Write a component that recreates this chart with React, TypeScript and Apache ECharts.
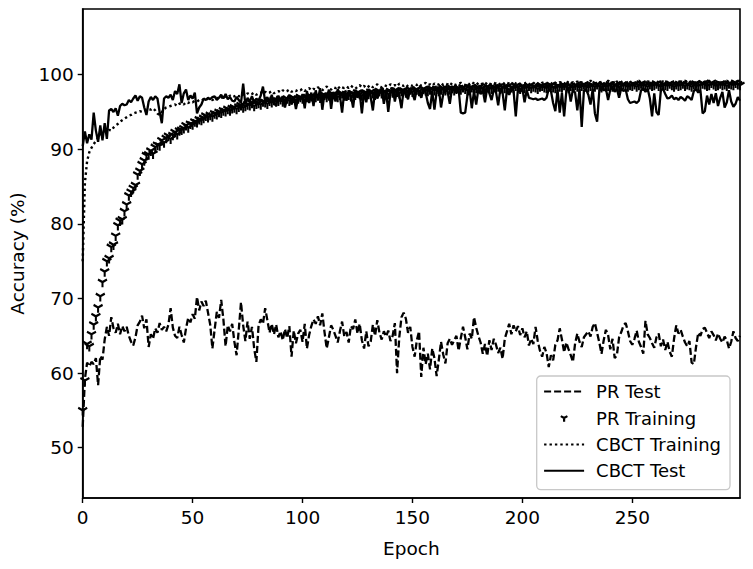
import React, { useEffect, useRef } from "react";
import * as echarts from "echarts";

const FONT = "DejaVu Sans";

const xTicks: number[] = [0, 50, 100, 150, 200, 250];
const yTicks: number[] = [50, 60, 70, 80, 90, 100];

// PR Test (dashed), epochs 0..299
const prTest: number[] = [
  52.8, 59.2, 61.4, 60.9, 61.5, 61.2, 62.0, 58.4, 62.3, 61.8,
  64.5, 66.2, 65.0, 67.5, 66.0, 65.4, 66.6, 65.2, 66.3, 65.6,
  66.2, 65.0, 64.2, 63.7, 64.8, 66.4, 66.9, 67.7, 66.0, 67.2,
  63.5, 65.2, 64.6, 66.0, 65.4, 66.7, 65.8, 66.2, 65.6, 66.5,
  68.7, 66.1, 65.0, 64.7, 66.2, 65.1, 64.1, 66.0, 67.4, 66.8,
  67.9, 67.3, 70.2, 68.4, 69.6, 69.0, 69.7, 68.1, 66.5, 63.3,
  65.8, 68.2, 67.4, 69.8, 67.2, 63.6, 66.4, 65.6, 66.6, 64.2,
  62.4, 65.8, 69.5, 66.4, 64.3, 66.9, 64.6, 66.2, 63.3, 61.5,
  66.4, 67.2, 66.6, 68.7, 67.1, 65.4, 66.6, 65.2, 66.5, 64.8,
  65.6, 64.4, 65.9, 64.7, 66.3, 62.2, 65.7, 64.0, 65.3, 65.8,
  64.2, 66.6, 63.3, 65.1, 66.3, 67.2, 66.6, 67.6, 66.4, 68.0,
  65.5, 63.3, 64.8, 66.4, 65.8, 65.0, 64.1, 65.6, 66.9, 64.9,
  65.5, 64.1, 66.3, 65.9, 67.2, 65.3, 66.6, 64.4, 63.3, 65.6,
  63.6, 64.2, 66.5, 65.0, 67.1, 65.4, 64.5, 65.6, 64.9, 65.7,
  64.3, 65.0, 66.7, 60.0, 64.8, 67.5, 68.1, 67.3, 65.4, 66.2,
  63.5, 62.2, 64.4, 65.6, 59.5, 63.4, 61.2, 62.6, 60.5, 63.3,
  62.0, 59.6, 61.8, 64.2, 62.5, 61.3, 64.0, 64.6, 63.8, 64.4,
  65.0, 63.0, 64.7, 66.2, 64.8, 63.2, 65.3, 64.6, 67.5, 66.1,
  65.0, 64.1, 62.6, 63.9, 62.3, 64.4, 63.1, 64.6, 63.8, 62.7,
  63.4, 61.9, 64.6, 65.6, 66.6, 65.2, 66.4, 65.6, 66.3, 65.1,
  66.0, 64.8, 65.6, 63.7, 64.6, 63.9, 66.2, 64.3, 63.0, 62.2,
  63.5, 62.7, 60.8, 62.4, 61.7, 63.8, 64.4, 66.0, 64.5, 62.8,
  64.1, 63.2, 62.4, 61.5, 64.0, 65.3, 64.2, 63.5, 64.8, 65.2,
  65.6, 64.9, 66.2, 66.7, 65.4, 64.1, 62.6, 64.4, 65.8, 65.1,
  63.2, 64.6, 62.0, 62.4, 64.8, 65.5, 66.4, 66.7, 65.6, 64.3,
  63.8, 64.6, 65.7, 64.2, 63.5, 62.6, 67.0, 65.2, 64.7, 64.0,
  63.4, 64.8, 65.3, 63.6, 64.5, 63.1, 64.2, 62.9, 62.2, 64.6,
  66.4, 65.3, 65.8, 64.9, 64.1, 63.6, 64.3, 61.4, 61.2, 63.5,
  65.4, 65.0, 65.9, 66.1, 65.4, 64.7, 65.6, 65.1, 64.4, 65.3,
  64.6, 64.1, 64.9, 64.4, 63.3, 64.2, 65.6, 64.7, 64.3, 65.0,
];

// PR Training (tri-down markers)
const prTraining: number[] = [
  55.0, 59.0, 63.9, 63.6, 65.2, 66.5, 67.6, 68.8, 70.3, 72.2,
  73.6, 75.0, 75.4, 76.9, 77.2, 78.4, 79.8, 80.4, 80.6, 81.7,
  82.6, 83.8, 84.3, 84.8, 85.2, 86.6, 87.1, 88.0, 88.5, 89.2,
  89.3, 89.8, 89.4, 90.3, 90.6, 90.5, 91.2, 90.9, 91.5, 91.8,
  91.4, 91.9, 92.3, 92.0, 92.5, 92.6, 92.8, 93.2, 92.9, 93.4,
  93.3, 93.7, 93.6, 94.0, 93.9, 94.2, 94.5, 94.3, 94.6, 94.4,
  94.8, 94.7, 95.0, 94.9, 95.2, 95.1, 95.4, 95.2, 95.5, 95.6,
  95.4, 95.7, 95.9, 95.6, 95.8, 96.0, 95.9, 96.2, 95.8, 96.1,
  96.2, 96.0, 96.4, 96.3, 96.1, 96.5, 96.3, 96.6, 96.4, 96.5,
  96.7, 96.4, 96.6, 96.8, 96.5, 96.7, 96.9, 96.6, 96.8, 97.0,
  96.8, 96.6, 97.0, 96.9, 97.1, 96.8, 97.0, 97.2, 96.9, 97.1,
  97.3, 97.0, 97.2, 97.1, 97.4, 97.2, 97.0, 97.3, 97.5, 97.2,
  97.4, 97.3, 97.1, 97.5, 97.3, 97.6, 97.4, 97.2, 97.5, 97.6,
  97.4, 97.7, 97.5, 97.3, 97.6, 97.8, 97.5, 97.7, 97.6, 97.4,
  97.8, 97.6, 97.9, 97.7, 97.5, 97.8, 97.9, 97.6, 97.8, 98.0,
  97.7, 97.9, 98.0, 97.8, 97.6, 98.1, 97.9, 97.8, 98.0, 98.1,
  97.9, 98.1, 97.8, 98.0, 98.2, 97.9, 98.1, 98.0, 98.2, 97.9,
  98.1, 98.2, 98.0, 98.3, 98.1, 97.9, 98.2, 98.3, 98.0, 98.2,
  98.3, 98.1, 98.2, 98.0, 98.4, 98.2, 98.1, 98.3, 98.2, 98.4,
  98.1, 98.3, 98.2, 98.4, 98.0, 98.3, 98.2, 98.5, 98.3, 98.1,
  98.4, 98.2, 98.3, 98.5, 98.2, 98.4, 98.3, 98.1, 98.4, 98.5,
  98.3, 98.2, 98.4, 98.6, 98.3, 98.2, 98.5, 98.4, 98.3, 98.6,
  98.4, 98.2, 98.5, 98.3, 98.6, 98.4, 98.3, 98.5, 98.7, 98.4,
  98.3, 98.5, 98.6, 98.4, 98.7, 98.5, 98.3, 98.6, 98.4, 98.5,
  98.7, 98.4, 98.6, 98.5, 98.3, 98.6, 98.7, 98.5, 98.4, 98.6,
  98.5, 98.7, 98.4, 98.6, 98.8, 98.5, 98.6, 98.4, 98.7, 98.5,
  98.6, 98.8, 98.5, 98.4, 98.7, 98.6, 98.5, 98.8, 98.6, 98.4,
  98.7, 98.5, 98.6, 98.8, 98.5, 98.7, 98.6, 98.4, 98.7, 98.8,
  98.5, 98.6, 98.8, 98.7, 98.5, 98.6, 98.9, 98.7, 98.5, 98.6,
  98.8, 98.6, 98.7, 98.5, 98.8, 98.7, 98.6, 98.9, 98.7, 98.6,
];

// CBCT Training (dotted)
const cbctTraining: number[] = [
  75.0, 85.5, 88.4, 89.6, 90.2, 90.7, 91.1, 91.5, 91.9, 92.2,
  92.4, 92.3, 92.6, 92.5, 92.9, 93.2, 93.4, 93.7, 93.9, 94.1,
  94.3, 94.5, 94.6, 94.8, 94.9, 95.0, 95.1, 95.0, 95.2, 95.3,
  95.4, 95.3, 95.5, 95.2, 94.8, 94.6, 95.0, 95.4, 95.6, 95.7,
  95.8, 95.9, 96.0, 95.8, 96.1, 96.2, 96.0, 96.3, 96.2, 96.4,
  96.3, 96.5, 96.4, 96.6, 96.5, 96.7, 96.6, 96.8, 96.7, 96.6,
  96.8, 96.9, 96.7, 97.0, 96.8, 97.1, 96.9, 97.2, 97.0, 97.1,
  97.3, 97.1, 97.2, 97.4, 97.2, 97.5, 97.3, 97.4, 97.6, 97.3,
  97.5, 97.6, 97.4, 97.7, 97.5, 97.6, 97.8, 97.5, 97.7, 97.8,
  97.6, 97.9, 97.7, 97.8, 98.0, 97.7, 97.9, 97.8, 98.0, 97.9,
  98.1, 97.8, 98.0, 98.2, 97.9, 98.1, 98.0, 98.3, 98.1, 97.9,
  98.2, 98.4, 98.1, 98.0, 98.3, 98.2, 98.5, 98.1, 98.3, 98.2,
  98.4, 98.2, 98.5, 98.3, 98.1, 98.4, 98.6, 98.3, 98.5, 98.2,
  98.4, 98.6, 98.3, 98.5, 98.7, 98.4, 98.3, 98.6, 98.5, 98.4,
  98.7, 98.5, 98.6, 98.4, 98.8, 98.6, 98.5, 98.7, 98.4, 98.6,
  98.5, 98.7, 98.6, 98.8, 98.5, 98.7, 98.9, 98.6, 98.7, 98.5,
  98.8, 98.6, 98.7, 98.9, 98.6, 98.8, 98.7, 98.5, 98.9, 98.7,
  98.6, 98.8, 98.9, 98.7, 98.6, 98.9, 98.7, 99.0, 98.8, 98.6,
  98.9, 98.7, 98.8, 98.6, 99.0, 98.8, 98.7, 98.9, 98.8, 98.6,
  98.8, 99.0, 98.7, 98.9, 98.8, 98.6, 99.1, 98.8, 98.9, 98.7,
  98.9, 98.8, 99.0, 98.7, 98.9, 98.8, 99.1, 98.8, 98.7, 98.9,
  99.0, 98.8, 98.9, 98.7, 99.1, 98.9, 98.8, 99.0, 98.9, 98.7,
  99.2, 98.9, 98.8, 99.0, 98.9, 99.1, 98.8, 99.0, 98.9, 98.8,
  99.0, 99.2, 98.9, 98.8, 99.0, 98.9, 99.1, 98.8, 99.0, 99.2,
  98.9, 99.0, 98.8, 99.1, 98.9, 99.0, 99.2, 98.9, 98.8, 99.0,
  99.1, 98.9, 99.0, 99.2, 98.9, 99.0, 98.8, 99.1, 99.0, 98.9,
  99.0, 99.2, 98.9, 99.0, 99.1, 98.9, 99.0, 99.2, 98.9, 99.1,
  99.0, 98.9, 99.1, 99.0, 99.2, 98.9, 99.0, 99.1, 98.9, 99.0,
  99.2, 99.0, 98.9, 99.1, 99.0, 99.2, 99.0, 98.9, 99.1, 99.0,
  99.0, 99.1, 98.9, 99.2, 99.0, 99.1, 98.9, 99.0, 99.2, 99.0,
];

// CBCT Test (solid)
const cbctTest: number[] = [
  90.4, 92.4, 90.8, 92.0, 91.3, 94.9, 92.5, 91.0, 93.2, 91.2,
  93.5, 91.4, 95.2, 95.4, 95.0, 95.5, 94.5, 95.8, 96.1, 95.9,
  96.0, 96.6, 96.3, 96.8, 97.2, 96.5, 97.1, 96.9, 95.6, 94.6,
  96.4, 97.0, 96.6, 97.1, 96.8, 95.0, 93.5, 96.8, 97.1, 96.9,
  97.3, 96.6, 97.8, 97.4, 98.7, 96.2, 97.5, 98.0, 96.6, 97.2,
  96.8, 97.6, 94.8, 95.6, 96.0, 96.8, 96.6, 96.9, 96.7, 97.0,
  97.1, 96.6, 96.9, 97.3, 96.8, 97.4, 96.7, 97.0, 96.5, 96.4,
  97.0, 96.6, 96.2, 98.8, 96.0, 96.9, 96.4, 97.1, 96.3, 96.8,
  96.5, 97.2, 98.4, 96.4, 97.0, 96.2, 97.3, 96.1, 95.9, 97.2,
  96.4, 97.1, 95.6, 96.8, 97.3, 96.0, 97.0, 95.4, 96.9, 96.6,
  97.4, 95.5, 97.8, 96.2, 97.6, 95.8, 97.9, 96.6, 98.2, 95.3,
  97.5, 96.8, 98.0, 95.4, 97.7, 96.4, 98.1, 97.2, 94.9, 97.8,
  96.5, 97.9, 97.2, 95.6, 98.0, 96.9, 97.6, 94.8, 97.7, 96.3,
  98.1, 97.0, 95.2, 97.9, 96.8, 97.5, 98.2, 96.1, 97.8, 95.0,
  97.6, 98.3, 96.4, 97.9, 97.2, 95.5, 98.0, 97.4, 96.7, 98.2,
  97.5, 96.6, 98.1, 97.8, 96.9, 98.0, 97.6, 96.2, 95.4, 97.8,
  95.3, 97.7, 98.1, 95.6, 97.4, 98.0, 97.7, 96.1, 98.2, 97.9,
  97.6, 98.1, 94.9, 94.8, 94.9, 97.2, 98.0, 95.5, 97.8, 96.0,
  98.1, 97.4, 97.9, 96.3, 98.2, 97.5, 96.6, 98.0, 97.7, 95.9,
  98.1, 97.6, 95.2, 98.0, 97.3, 98.2, 97.8, 94.4, 98.1, 97.7,
  98.2, 96.3, 97.9, 96.9, 96.8, 96.7, 96.8, 96.6, 96.7, 96.8,
  96.6, 96.9, 98.1, 97.8, 96.2, 95.1, 98.0, 94.9, 97.6, 94.4,
  97.8, 98.2, 96.4, 98.0, 97.6, 95.2, 98.1, 93.0, 97.9, 98.0,
  97.3, 96.0, 98.1, 94.8, 93.7, 97.8, 98.2, 97.9, 98.1, 96.6,
  98.0, 98.3, 97.7, 98.1, 96.9, 98.2, 97.8, 98.0, 96.7, 96.2,
  96.3, 96.4, 96.2, 96.5, 97.9, 98.2, 97.7, 98.1, 96.8, 94.4,
  97.5, 95.0, 94.6, 97.9, 98.1, 97.4, 96.8, 96.9, 97.2, 96.7,
  96.9, 96.6, 97.0, 96.8, 96.5, 97.1, 96.9, 96.6, 97.8, 98.1,
  97.6, 97.9, 94.8, 95.1, 97.2, 96.0, 97.4, 96.2, 97.5, 95.8,
  96.9, 97.7, 95.6, 96.3, 97.9, 96.4, 95.7, 96.1, 97.0, 96.5,
];

const epochs: number[] = prTest.map((_, i) => i);

const TRI_DOWN = "path://M0,-10 M0,0 L0,10 M0,0 L-8.66,-5 M0,0 L8.66,-5";
const TRI_DOWN_LEGEND = "path://M-20,-7 M20,7 M0,0 L0,3.8 M0,0 L-3.3,-1.9 M0,0 L3.3,-1.9";

export default function App() {
  const ref = useRef<HTMLDivElement>(null);

  useEffect(() => {
    if (!ref.current) return;
    const chart = echarts.init(ref.current, undefined, { renderer: "svg" });
    const pair = (arr: number[]) => arr.map((v, i) => [epochs[i], v]);

    chart.setOption({
      animation: false,
      backgroundColor: "#ffffff",
      textStyle: { fontFamily: FONT, color: "#000" },
      grid: {
        left: 82.7,
        top: 9,
        right: 13,
        bottom: 71,
        show: true,
        borderColor: "#000",
        borderWidth: 1.6,
        backgroundColor: "transparent",
      },
      xAxis: {
        type: "value",
        min: 0,
        max: 299,
        name: "Epoch",
        nameLocation: "middle",
        nameGap: 41,
        nameTextStyle: { fontFamily: FONT, fontSize: 18.5, color: "#000" },
        axisLine: { show: true, lineStyle: { color: "#000", width: 1.6 } },
        axisTick: {
          show: true,
          length: 5,
          inside: false,
          customValues: xTicks,
          lineStyle: { color: "#000", width: 1.4 },
        },
        axisLabel: {
          customValues: xTicks,
          margin: 10,
          fontFamily: FONT,
          fontSize: 18.5,
          color: "#000",
        },
        splitLine: { show: false },
      },
      yAxis: {
        type: "value",
        min: 43.26,
        max: 108.8,
        name: "Accuracy (%)",
        nameLocation: "middle",
        nameGap: 54,
        nameTextStyle: { fontFamily: FONT, fontSize: 18.5, color: "#000" },
        axisLine: { show: true, lineStyle: { color: "#000", width: 1.6 } },
        axisTick: {
          show: true,
          length: 5,
          inside: false,
          customValues: yTicks,
          lineStyle: { color: "#000", width: 1.4 },
        },
        axisLabel: {
          customValues: yTicks,
          margin: 9,
          fontFamily: FONT,
          fontSize: 18.5,
          color: "#000",
        },
        splitLine: { show: false },
      },
      legend: {
        orient: "vertical",
        left: 536.7,
        top: 376,
        padding: [6.6, 9, 9.8, 6.3],
        itemWidth: 40,
        itemHeight: 14,
        itemGap: 8.4,
        borderColor: "#c8c8c8",
        borderWidth: 1.3,
        borderRadius: 4,
        backgroundColor: "rgba(255,255,255,0.85)",
        selectedMode: false,
        textStyle: {
          fontFamily: FONT,
          fontSize: 18,
          color: "#000",
          padding: [0, 0, 0, 7],
        },
        data: [
          { name: "PR Test", itemStyle: { opacity: 0 } },
          {
            name: "PR Training",
            icon: TRI_DOWN_LEGEND,
            itemStyle: { color: "#000", borderColor: "#000", borderWidth: 2.2, opacity: 1 },
          },
          { name: "CBCT Training", itemStyle: { opacity: 0 } },
          { name: "CBCT Test", itemStyle: { opacity: 0 } },
        ],
      },
      series: [
        {
          name: "PR Test",
          type: "line",
          data: pair(prTest),
          symbol: "none",
          lineStyle: { color: "#000", width: 2.3, type: [7, 3] },
          itemStyle: { color: "#000" },
        },
        {
          name: "PR Training",
          type: "scatter",
          data: pair(prTraining),
          symbol: TRI_DOWN,
          symbolSize: [9, 10.4],
          itemStyle: { color: "#000", borderColor: "#000", borderWidth: 2.2, opacity: 1 },
        },
        {
          name: "CBCT Training",
          type: "line",
          data: pair(cbctTraining),
          symbol: "none",
          lineStyle: { color: "#000", width: 2.4, type: [2.4, 3] },
          itemStyle: { color: "#000" },
        },
        {
          name: "CBCT Test",
          type: "line",
          data: pair(cbctTest),
          symbol: "none",
          lineStyle: { color: "#000", width: 2.3 },
          itemStyle: { color: "#000" },
        },
      ],
    });

    return () => chart.dispose();
  }, []);

  return (
    <div
      ref={ref}
      style={{ position: "absolute", left: 0, top: 0, width: 753, height: 569 }}
    />
  );
}
